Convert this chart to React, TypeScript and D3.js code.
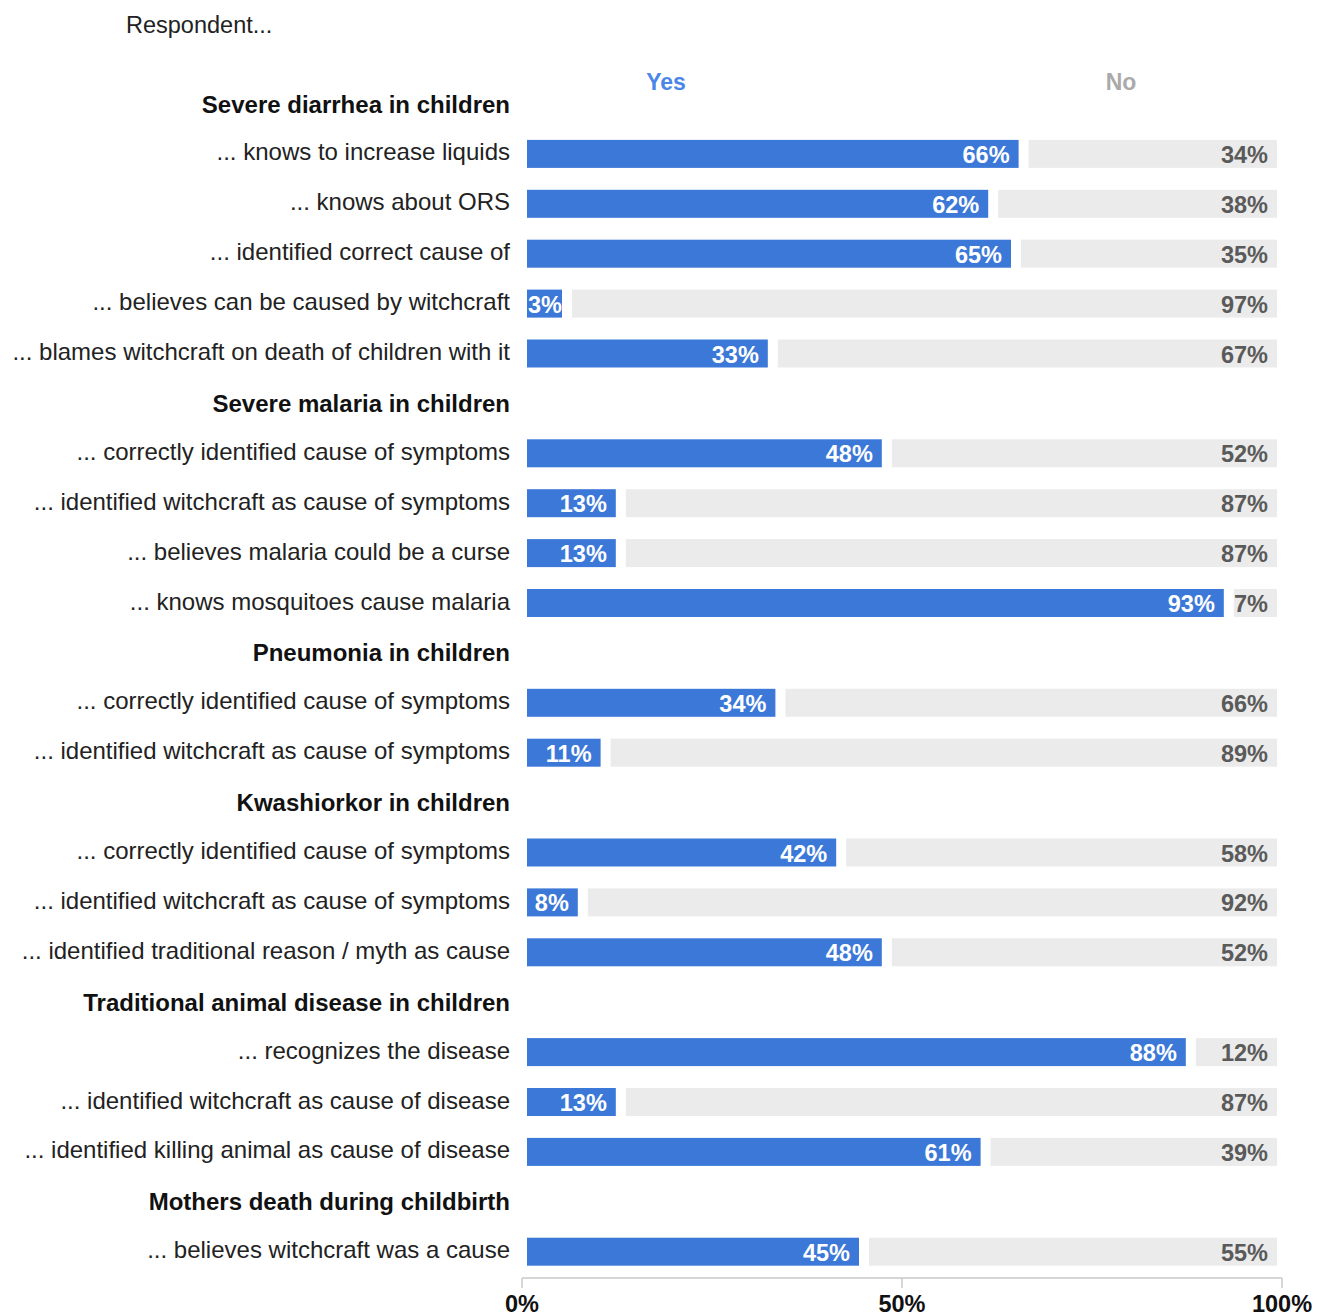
import React from "react";
import * as d3 from "d3";

const groups = [
  "Severe diarrhea in children",
  "Severe malaria in children",
  "Pneumonia in children",
  "Kwashiorkor in children",
  "Traditional animal disease in children",
  "Mothers death during childbirth",
];

// group index for each item
const itemGroup = [0, 0, 0, 0, 0, 1, 1, 1, 1, 2, 2, 3, 3, 3, 4, 4, 4, 5];

const itemLabels = [
  "... knows to increase liquids",
  "... knows about ORS",
  "... identified correct cause of",
  "... believes can be caused by witchcraft",
  "... blames witchcraft on death of children with it",
  "... correctly identified cause of symptoms",
  "... identified witchcraft as cause of symptoms",
  "... believes malaria could be a curse",
  "... knows mosquitoes cause malaria",
  "... correctly identified cause of symptoms",
  "... identified witchcraft as cause of symptoms",
  "... correctly identified cause of symptoms",
  "... identified witchcraft as cause of symptoms",
  "... identified traditional reason / myth as cause",
  "... recognizes the disease",
  "... identified witchcraft as cause of disease",
  "... identified killing animal as cause of disease",
  "... believes witchcraft was a cause",
];

const yesValues = [66, 62, 65, 3, 33, 48, 13, 13, 93, 34, 11, 42, 8, 48, 88, 13, 61, 45];
const noValues = [34, 38, 35, 97, 67, 52, 87, 87, 7, 66, 89, 58, 92, 52, 12, 87, 39, 55];

const xTicks = [0, 50, 100];
const seriesNames = ["Yes", "No"];

const FONT = "'Liberation Sans', Arial, Helvetica, sans-serif";
const BLUE = "#3c78d8";
const GREY_BAR = "#ebebeb";

type Row = { kind: "header"; text: string } | { kind: "item"; text: string; yes: number; no: number };

export default function App() {
  const width = 1319;
  const height = 1316;

  const rows: Row[] = [];
  let lastGroup = -1;
  itemLabels.forEach((lab, i) => {
    if (itemGroup[i] !== lastGroup) {
      lastGroup = itemGroup[i];
      rows.push({ kind: "header", text: groups[lastGroup] });
    }
    rows.push({ kind: "item", text: lab, yes: yesValues[i], no: noValues[i] });
  });

  const x = d3.scaleLinear().domain([0, 100]).range([522, 1282]);
  const y = d3
    .scalePoint<number>()
    .domain(d3.range(rows.length))
    .range([104, 1251.7]);

  const barH = 28;
  const labelX = 510;
  const axisY = 1278;

  return (
    <svg
      width={width}
      height={height}
      style={{ position: "absolute", left: 0, top: 0, background: "#fff" }}
      fontFamily={FONT}
    >
      <text x={126} y={33} fontSize={23.5} fill="#222">
        Respondent...
      </text>
      <text x={666} y={90} fontSize={23} fontWeight="bold" fill="#4a86e8" textAnchor="middle">
        {seriesNames[0]}
      </text>
      <text x={1121} y={90} fontSize={23} fontWeight="bold" fill="#aaaaaa" textAnchor="middle">
        {seriesNames[1]}
      </text>

      {rows.map((r, i) => {
        const cy = y(i) as number;
        if (r.kind === "header") {
          return (
            <text
              key={i}
              x={labelX}
              y={cy}
              dominantBaseline="central"
              textAnchor="end"
              fontSize={24}
              fontWeight="bold"
              fill="#111"
            >
              {r.text}
            </text>
          );
        }
        const x0 = x(0) + 5;
        const natural = x(r.yes) - 5;
        const small = natural - x0 < 35;
        const yesEnd = small ? x0 + 35 : natural;
        const noStart = small ? yesEnd + 10 : x(r.yes) + 5;
        const noEnd = x(100) - 5;
        return (
          <g key={i}>
            <text
              x={labelX}
              y={cy - 2}
              dominantBaseline="central"
              textAnchor="end"
              fontSize={24}
              fill="#222"
            >
              {r.text}
            </text>
            <rect x={x0} y={cy - barH / 2} width={yesEnd - x0} height={barH} fill={BLUE} />
            <rect x={noStart} y={cy - barH / 2} width={noEnd - noStart} height={barH} fill={GREY_BAR} />
            <text
              x={small ? x0 + 1 : yesEnd - 9}
              y={cy + 1}
              dominantBaseline="central"
              textAnchor={small ? "start" : "end"}
              fontSize={23.5}
              fontWeight="bold"
              fill="#fff"
            >
              {r.yes}%
            </text>
            <text
              x={noEnd - 9}
              y={cy + 1}
              dominantBaseline="central"
              textAnchor="end"
              fontSize={23.5}
              fontWeight="bold"
              fill="#5a5a5a"
            >
              {r.no}%
            </text>
          </g>
        );
      })}

      <line x1={x(0)} x2={x(100)} y1={axisY} y2={axisY} stroke="#c8c8c8" strokeWidth={1.5} />
      {xTicks.map((t) => (
        <g key={t}>
          <line x1={x(t)} x2={x(t)} y1={axisY} y2={axisY + 10} stroke="#c8c8c8" strokeWidth={1.5} />
          <text
            x={x(t)}
            y={1304}
            dominantBaseline="central"
            textAnchor="middle"
            fontSize={23.5}
            fontWeight="bold"
            fill="#111"
          >
            {t}%
          </text>
        </g>
      ))}
    </svg>
  );
}
